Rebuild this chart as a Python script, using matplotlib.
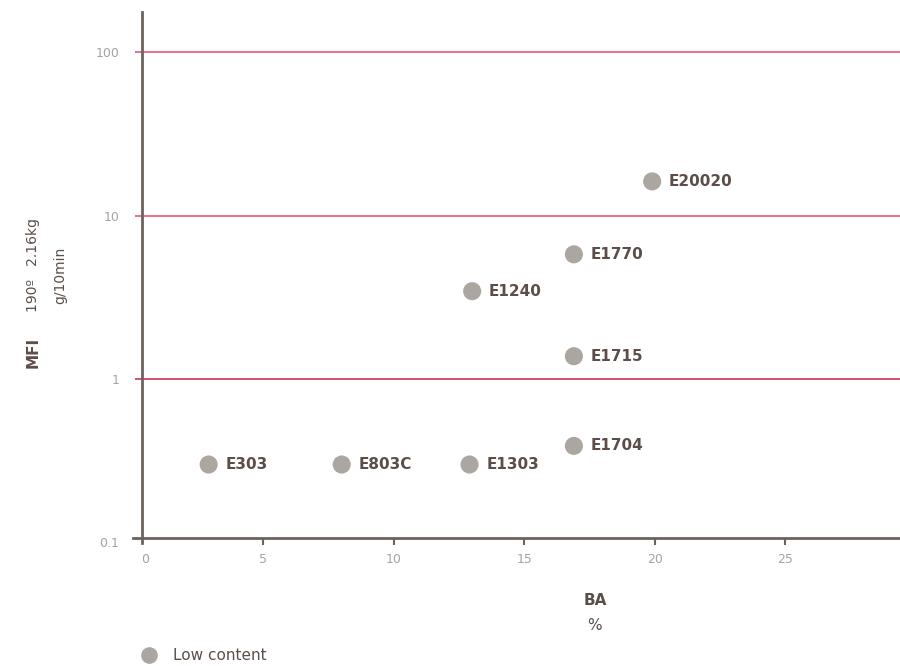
import matplotlib
matplotlib.use('Agg')
import matplotlib.pyplot as plt
import matplotlib.transforms as mtransforms
import numpy as np

# grades: BA content (%) vs melt flow index
names = ['E303', 'E803C', 'E1303', 'E1240', 'E1704', 'E1715', 'E1770', 'E20020']
ba = [2.9, 8.0, 12.9, 13.0, 16.9, 16.9, 16.9, 19.9]
mfi = [0.30, 0.30, 0.30, 3.45, 0.39, 1.38, 5.8, 16.2]

xticks = [0, 5, 10, 15, 20, 25]
yticks = [0.1, 1, 10, 100]
ytick_labels = ['0.1', '1', '10', '100']

dot = '#aba6a0'
ink = '#5b4e48'
axis_col = '#6e625d'
tick_txt = '#a8a29e'

x0, x1 = 0.065, 29.4
axis_x = 0.33

fig = plt.figure(figsize=(9, 6.66), dpi=100)
ax = fig.add_axes([133 / 900, 0.1847, 767 / 900, 0.797])

ax.set_yscale('log')
ax.set_xlim(x0, x1)
ax.set_ylim(0.0993, 175.8)

# horizontal reference lines
ax.hlines([10, 100], x0, x1, colors='#e8456e', lw=1.1, zorder=1)
ax.hlines([1], x0, x1, colors='#c81f42', lw=1.1, zorder=1)

ax.scatter(ba, mfi, s=170, color=dot, marker='o', edgecolors='none', zorder=3)
for n, x, y in zip(names, ba, mfi):
    ax.annotate(n, (x, y), xytext=(12, 0), textcoords='offset points',
                va='center', ha='left', fontsize=11, fontweight='bold', color=ink)

for s in ['top', 'right']:
    ax.spines[s].set_visible(False)
ax.spines['left'].set_position(('data', axis_x))
ax.spines['bottom'].set_position(('data', 0.1066))
ax.spines['left'].set_color(axis_col)
ax.spines['bottom'].set_color(axis_col)
ax.spines['left'].set_linewidth(2)
ax.spines['bottom'].set_linewidth(2)

ax.set_xticks(xticks)
ax.set_xticklabels([str(t) for t in xticks])
ax.set_yticks(yticks)
ax.set_yticklabels(ytick_labels)
ax.yaxis.set_minor_locator(matplotlib.ticker.NullLocator())
ax.tick_params(axis='x', length=5, width=1.5, color=axis_col, labelcolor=tick_txt,
               labelsize=9, pad=6)
ax.tick_params(axis='y', length=0, labelcolor=tick_txt, labelsize=9, pad=16)
ax.xaxis.get_major_ticks()[0].tick1line.set_visible(False)
# the "0" label sits next to the vertical axis
lbl0 = ax.get_xticklabels()[0]
lbl0.set_transform(lbl0.get_transform() +
                   mtransforms.ScaledTranslation(0.12, 0, fig.dpi_scale_trans))

# axis titles
fig.text(0.037, 0.471, 'MFI', rotation=90, ha='center', va='center',
         fontsize=11, fontweight='bold', color=ink)
fig.text(0.037, 0.602, '190º   2.16kg', rotation=90, ha='center', va='center',
         fontsize=10, color=ink)
fig.text(0.067, 0.587, 'g/10min', rotation=90, ha='center', va='center',
         fontsize=10, color=ink)
fig.text(0.661, 0.099, 'BA', ha='center', va='center', fontsize=11,
         fontweight='bold', color=ink)
fig.text(0.661, 0.061, '%', ha='center', va='center', fontsize=11, color=ink)

# legend
fig.lines.append(plt.Line2D([0.166], [0.016], marker='o', markersize=12,
                            color=dot, markeredgewidth=0, transform=fig.transFigure))
fig.text(0.192, 0.016, 'Low content', ha='left', va='center', fontsize=11, color=ink)

fig.savefig('out.png', dpi=100)
